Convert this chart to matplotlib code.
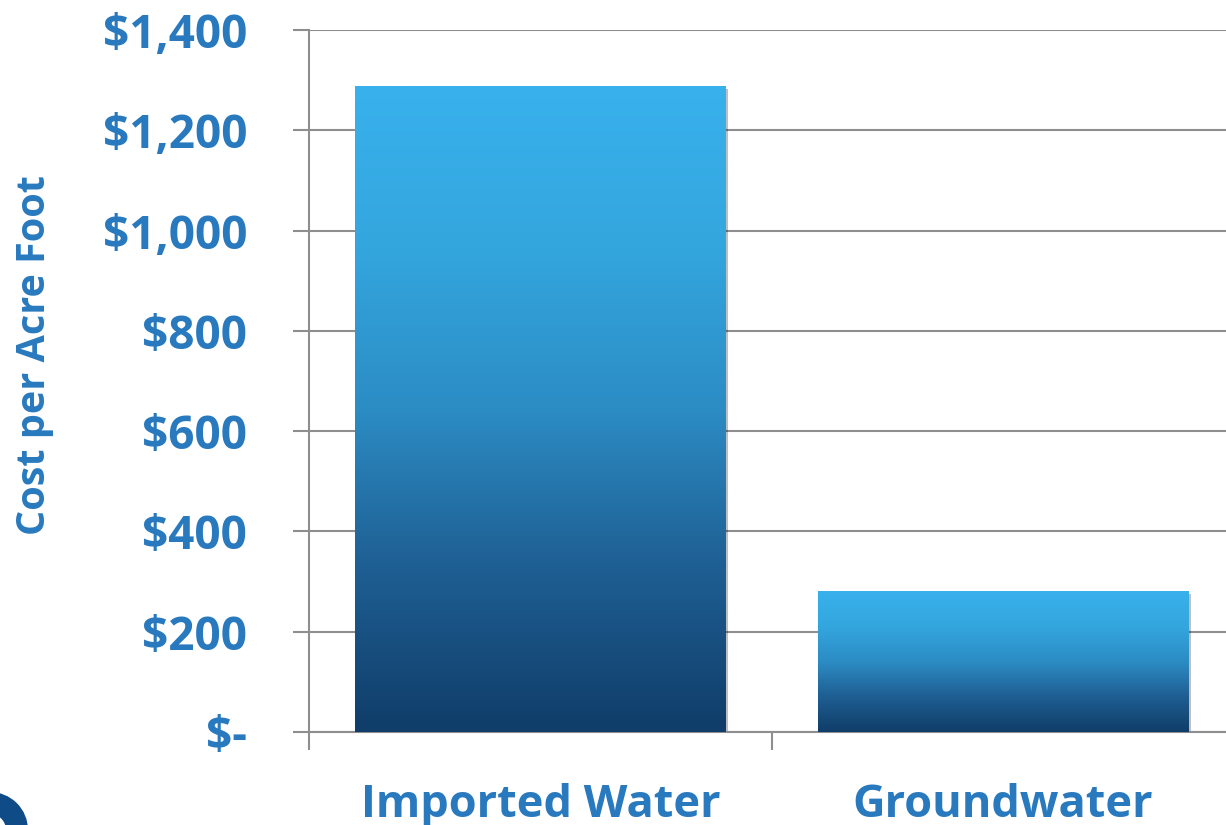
import matplotlib
matplotlib.use("Agg")
import matplotlib.pyplot as plt
import numpy as np
from matplotlib.colors import LinearSegmentedColormap
from matplotlib.patches import Rectangle, Wedge
from matplotlib import patheffects as pe

# --- данные ---
categories = ["Imported Water", "Groundwater"]
cost_per_af = [1288, 281]
y_ticks = [0, 200, 400, 600, 800, 1000, 1200, 1400]
y_tick_labels = ["$-", "$200", "$400", "$600", "$800", "$1,000", "$1,200", "$1,400"]

TEXT_BLUE = "#2879BE"
GRID_GRAY = "#8E8E8E"
bar_cmap = LinearSegmentedColormap.from_list(
    "bar", ["#103D69", "#1E5E92", "#2C8CC4", "#34A6DE", "#38B1EC"], N=256)

plt.rcParams["font.family"] = ["Open Sans", "DejaVu Sans"]

fig = plt.figure(figsize=(12.26, 8.25), dpi=100)
ax = fig.add_axes([0.252, 0.1127, 0.755, 0.8509])

x = np.arange(len(categories))
width = 0.8
bars = ax.bar(x, cost_per_af, width=width, color="none", zorder=3)

# градиентная заливка + тень
grad = np.linspace(0, 1, 256).reshape(-1, 1)
for b in bars:
    x0, y0 = b.get_x(), b.get_y()
    w, h = b.get_width(), b.get_height()
    shadow = Rectangle((x0, y0), w, h, facecolor="white", edgecolor="none", zorder=2,
                       path_effects=[pe.SimplePatchShadow(offset=(2, -2), shadow_rgbFace="#000000",
                                                          alpha=0.25), pe.Normal()])
    ax.add_patch(shadow)
    im = ax.imshow(grad, extent=[x0, x0 + w, y0, y0 + h], origin="lower",
                   cmap=bar_cmap, aspect="auto", zorder=3)
    im.set_clip_path(b)

ax.set_xlim(-0.5, 1.5)
ax.set_ylim(0, 1400)

ax.set_yticks(y_ticks)
ax.set_yticklabels(y_tick_labels)
ax.yaxis.grid(True, color=GRID_GRAY, linewidth=1.5, zorder=0)
ax.set_axisbelow(True)

# деления по границам категорий, подписи по центрам
ax.set_xticks([-0.5, 0.5, 1.5])
ax.set_xticklabels(["", "", ""])
ax.set_xticks(x, minor=True)
ax.set_xticklabels(categories, minor=True)
ax.tick_params(axis="x", which="major", length=13, width=1.5, color=GRID_GRAY)
ax.tick_params(axis="x", which="minor", length=0, pad=36.5, labelsize=32.5,
               labelcolor=TEXT_BLUE)
ax.tick_params(axis="y", length=11.5, width=1.5, color=GRID_GRAY, pad=33,
               labelsize=33, labelcolor=TEXT_BLUE)
for lbl in ax.get_xticklabels(minor=True) + ax.get_yticklabels():
    lbl.set_fontweight("bold")

for side in ["top", "right"]:
    ax.spines[side].set_visible(False)
ax.spines["left"].set_color(GRID_GRAY)
ax.spines["left"].set_linewidth(1.5)
ax.spines["bottom"].set_color(GRID_GRAY)
ax.spines["bottom"].set_linewidth(1.5)

ax.set_ylabel("Cost per Acre Foot", fontsize=28.5, fontweight="bold",
              color=TEXT_BLUE)
ax.yaxis.set_label_coords(-0.275, 0.537)

# кусок логотипа в левом нижнем углу
logo = Wedge((-10, -5), 38, 0, 90, width=22, facecolor="#0F4C87", edgecolor="none",
             transform=None)
fig.patches.append(logo)

fig.savefig("out.png", dpi=100)
